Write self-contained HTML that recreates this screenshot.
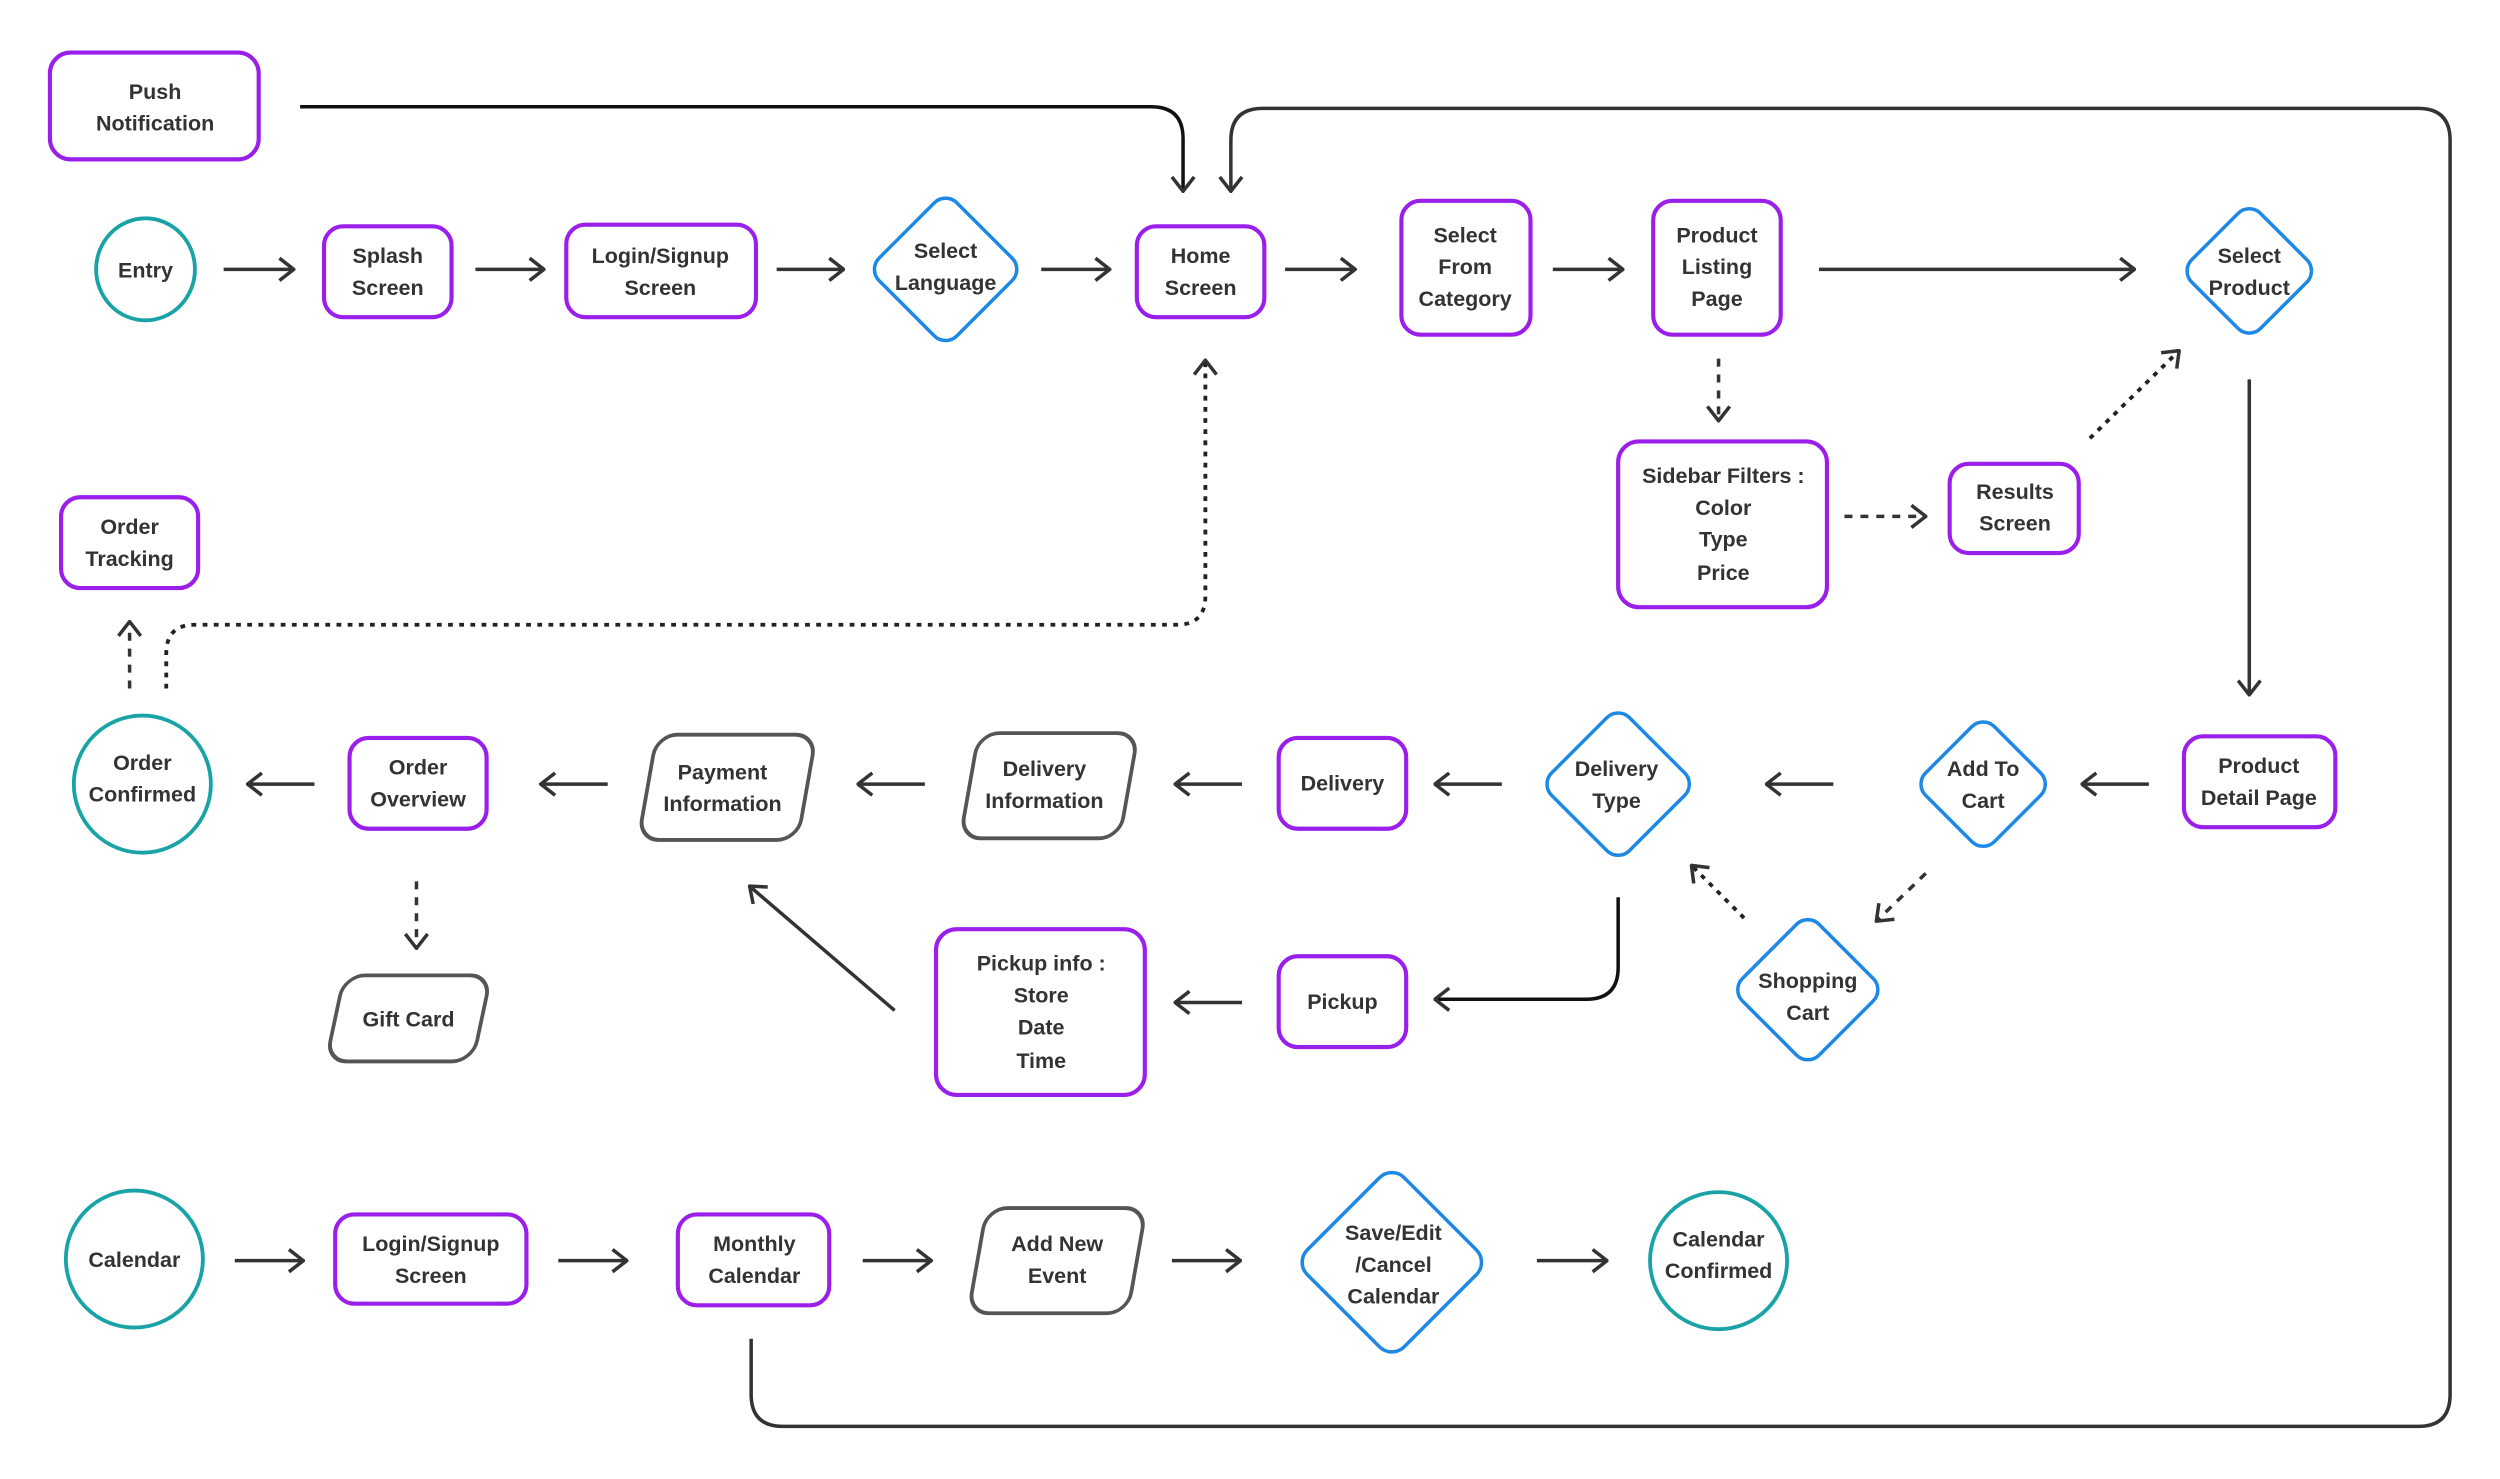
<!DOCTYPE html>
<html><head><meta charset="utf-8"><style>
html,body{margin:0;padding:0;background:#fff;}
svg{display:block;}
text{font-family:"Liberation Sans",sans-serif;font-weight:bold;font-size:13.5px;fill:#333;text-anchor:middle;}
.p{fill:#fff;stroke:#9a1fea;stroke-width:2.6;}
.b{fill:#fff;stroke:#1e88e5;stroke-width:2.2;}
.t{fill:#fff;stroke:#1aa3a6;stroke-width:2.4;}
.g{fill:#fff;stroke:#555;stroke-width:2.4;}
.a{fill:none;stroke:#333;stroke-width:2.2;}
.k{fill:none;stroke:#111;stroke-width:2.2;}
.d{fill:none;stroke:#333;stroke-width:2.2;stroke-dasharray:5 5;}
.o{fill:none;stroke:#222;stroke-width:2.4;stroke-dasharray:3 4;}
</style></head><body>
<svg width="2500" height="1479" viewBox="0 0 1568 928" xmlns="http://www.w3.org/2000/svg">
<defs>
<marker id="m" viewBox="0 0 12 16" refX="11" refY="8" markerWidth="12" markerHeight="16" markerUnits="userSpaceOnUse" orient="auto">
<path d="M2,1 L11,8 L2,15" fill="none" stroke="#333" stroke-width="2.2"/>
</marker>
</defs>

<!-- connectors -->
<path class="k" d="M188,67 L722,67 Q742,67 742,87 L742,120" marker-end="url(#m)"/>
<path class="a" d="M471,840 L471,875 Q471,895 491,895 L1517,895 Q1537,895 1537,875 L1537,88 Q1537,68 1517,68 L792,68 Q772,68 772,88 L772,120" marker-end="url(#m)"/>
<path class="a" d="M140,169 L184,169" marker-end="url(#m)"/>
<path class="a" d="M298,169 L341,169" marker-end="url(#m)"/>
<path class="a" d="M487,169 L529,169" marker-end="url(#m)"/>
<path class="a" d="M653,169 L696,169" marker-end="url(#m)"/>
<path class="a" d="M806,169 L850,169" marker-end="url(#m)"/>
<path class="a" d="M974,169 L1018,169" marker-end="url(#m)"/>
<path class="a" d="M1141,169 L1339,169" marker-end="url(#m)"/>
<path class="d" d="M1078,225 L1078,264" marker-end="url(#m)"/>
<path class="d" d="M1157,324 L1208,324" marker-end="url(#m)"/>
<path class="o" d="M1311,275 L1367,220" marker-end="url(#m)"/>
<path class="a" d="M1411,238 L1411,436" marker-end="url(#m)"/>
<path class="a" d="M1348,492 L1306,492" marker-end="url(#m)"/>
<path class="a" d="M1150,492 L1108,492" marker-end="url(#m)"/>
<path class="a" d="M942,492 L900,492" marker-end="url(#m)"/>
<path class="a" d="M779,492 L737,492" marker-end="url(#m)"/>
<path class="a" d="M580,492 L538,492" marker-end="url(#m)"/>
<path class="a" d="M381,492 L339,492" marker-end="url(#m)"/>
<path class="a" d="M197,492 L155,492" marker-end="url(#m)"/>
<path class="d" d="M1208,548 L1177,578" marker-end="url(#m)"/>
<path class="o" d="M1094,576 L1061,543" marker-end="url(#m)"/>
<path class="k" d="M1015,563 L1015,607 Q1015,627 995,627 L900,627" marker-end="url(#m)"/>
<path class="a" d="M779,629 L737,629" marker-end="url(#m)"/>
<path class="a" d="M561,634 L470,556" marker-end="url(#m)"/>
<path class="d" d="M261,553 L261,595" marker-end="url(#m)"/>
<path class="d" d="M81,432 L81,390" marker-end="url(#m)"/>
<path class="o" d="M104,432 L104,410 Q104,392 122,392 L738,392 Q756,392 756,374 L756,226" marker-end="url(#m)"/>
<path class="a" d="M147,791 L190,791" marker-end="url(#m)"/>
<path class="a" d="M350,791 L393,791" marker-end="url(#m)"/>
<path class="a" d="M541,791 L584,791" marker-end="url(#m)"/>
<path class="a" d="M735,791 L778,791" marker-end="url(#m)"/>
<path class="a" d="M964,791 L1008,791" marker-end="url(#m)"/>

<!-- nodes -->
<rect class="p" x="31" y="33" width="131" height="67" rx="13"/>
<text x="97" y="62">Push</text><text x="97" y="82">Notification</text>

<ellipse class="t" cx="91" cy="169" rx="31" ry="32"/>
<text x="91" y="174">Entry</text>

<rect class="p" x="203" y="142" width="80" height="57" rx="12"/>
<text x="243" y="165">Splash</text><text x="243" y="185">Screen</text>

<rect class="p" x="355" y="141" width="119" height="58" rx="12"/>
<text x="414" y="165">Login/Signup</text><text x="414" y="185">Screen</text>

<rect class="b" x="-34.5" y="-34.5" width="69" height="69" rx="10" transform="translate(593,169) rotate(45)"/>
<text x="593" y="162">Select</text><text x="593" y="182">Language</text>

<rect class="p" x="713" y="142" width="80" height="57" rx="12"/>
<text x="753" y="165">Home</text><text x="753" y="185">Screen</text>

<rect class="p" x="879" y="126" width="81" height="84" rx="12"/>
<text x="919" y="152">Select</text><text x="919" y="172">From</text><text x="919" y="192">Category</text>

<rect class="p" x="1037" y="126" width="80" height="84" rx="12"/>
<text x="1077" y="152">Product</text><text x="1077" y="172">Listing</text><text x="1077" y="192">Page</text>

<rect class="b" x="-30.5" y="-30.5" width="61" height="61" rx="10" transform="translate(1411,170) rotate(45)"/>
<text x="1411" y="165">Select</text><text x="1411" y="185">Product</text>

<rect class="p" x="1015" y="277" width="131" height="104" rx="13"/>
<text x="1081" y="303">Sidebar Filters :</text><text x="1081" y="323">Color</text><text x="1081" y="343">Type</text><text x="1081" y="364">Price</text>

<rect class="p" x="1223" y="291" width="81" height="56" rx="12"/>
<text x="1264" y="313">Results</text><text x="1264" y="333">Screen</text>

<rect class="p" x="38" y="312" width="86" height="57" rx="12"/>
<text x="81" y="335">Order</text><text x="81" y="355">Tracking</text>

<circle class="t" cx="89" cy="492" r="43"/>
<text x="89" y="483">Order</text><text x="89" y="503">Confirmed</text>

<rect class="p" x="219" y="463" width="86" height="57" rx="12"/>
<text x="262" y="486">Order</text><text x="262" y="506">Overview</text>

<rect class="g" x="-50" y="-33" width="100" height="66" rx="13" transform="translate(456,494) skewX(-10)"/>
<text x="453" y="489">Payment</text><text x="453" y="509">Information</text>

<rect class="g" x="-50" y="-33" width="100" height="66" rx="13" transform="translate(658,493) skewX(-10)"/>
<text x="655" y="487">Delivery</text><text x="655" y="507">Information</text>

<rect class="p" x="802" y="463" width="80" height="57" rx="12"/>
<text x="842" y="496">Delivery</text>

<rect class="b" x="-34.5" y="-34.5" width="69" height="69" rx="10" transform="translate(1015,492) rotate(45)"/>
<text x="1014" y="487">Delivery</text><text x="1014" y="507">Type</text>

<rect class="b" x="-30.5" y="-30.5" width="61" height="61" rx="10" transform="translate(1244,492) rotate(45)"/>
<text x="1244" y="487">Add To</text><text x="1244" y="507">Cart</text>

<rect class="p" x="1370" y="462" width="95" height="57" rx="12"/>
<text x="1417" y="485">Product</text><text x="1417" y="505">Detail Page</text>

<rect class="b" x="-34" y="-34" width="68" height="68" rx="10" transform="translate(1134,621) rotate(45)"/>
<text x="1134" y="620">Shopping</text><text x="1134" y="640">Cart</text>

<rect class="p" x="802" y="600" width="80" height="57" rx="12"/>
<text x="842" y="633">Pickup</text>

<rect class="p" x="587" y="583" width="131" height="104" rx="13"/>
<text x="653" y="609">Pickup info :</text><text x="653" y="629">Store</text><text x="653" y="649">Date</text><text x="653" y="670">Time</text>

<rect class="g" x="-46" y="-27" width="92" height="54" rx="13" transform="translate(256,639) skewX(-12)"/>
<text x="256" y="644">Gift Card</text>

<circle class="t" cx="84" cy="790" r="43"/>
<text x="84" y="795">Calendar</text>

<rect class="p" x="210" y="762" width="120" height="56" rx="12"/>
<text x="270" y="785">Login/Signup</text><text x="270" y="805">Screen</text>

<rect class="p" x="425" y="762" width="95" height="57" rx="12"/>
<text x="473" y="785">Monthly</text><text x="473" y="805">Calendar</text>

<rect class="g" x="-50" y="-33" width="100" height="66" rx="13" transform="translate(663,791) skewX(-10)"/>
<text x="663" y="785">Add New</text><text x="663" y="805">Event</text>

<rect class="b" x="-43" y="-43" width="86" height="86" rx="11" transform="translate(873,792) rotate(45)"/>
<text x="874" y="778">Save/Edit</text><text x="874" y="798">/Cancel</text><text x="874" y="818">Calendar</text>

<circle class="t" cx="1078" cy="791" r="43"/>
<text x="1078" y="782">Calendar</text><text x="1078" y="802">Confirmed</text>
</svg>
</body></html>
